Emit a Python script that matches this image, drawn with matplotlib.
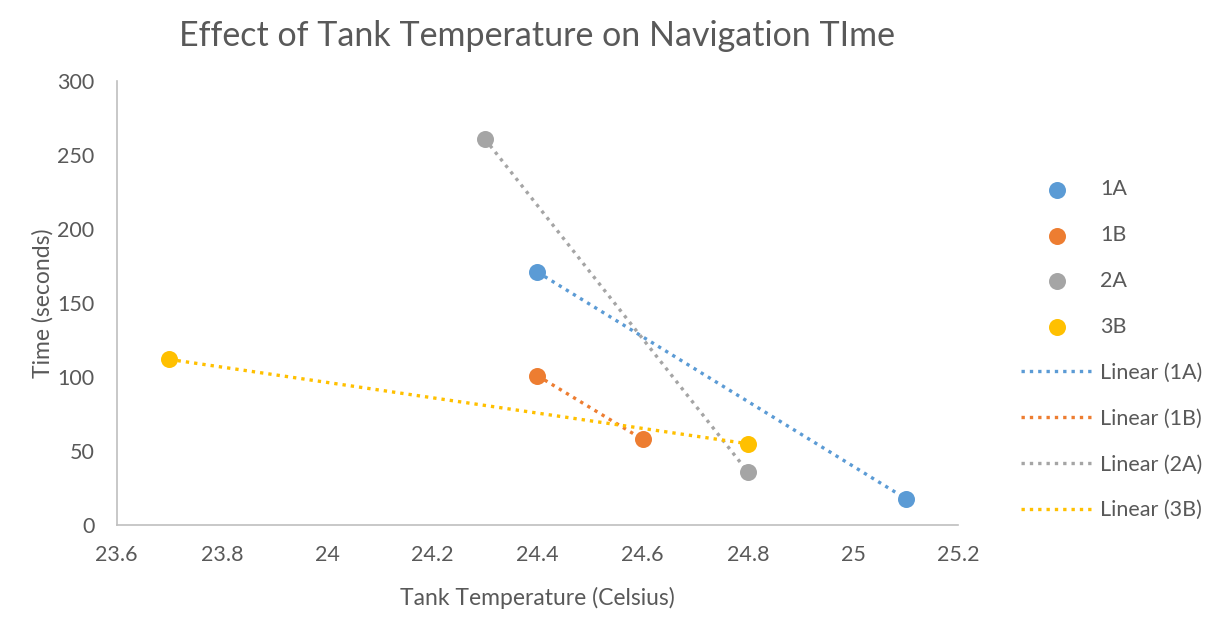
import matplotlib.pyplot as plt
import numpy as np

plt.rcParams['font.family'] = ['Lato', 'DejaVu Sans']

series = ["1A", "1B", "2A", "3B"]
colors = ["#5B9BD5", "#ED7D31", "#A5A5A5", "#FFC000"]
temps = [[24.4, 25.1], [24.4, 24.6], [24.3, 24.8], [23.7, 24.8]]
times = [[171, 18], [101, 58], [261, 36], [112, 55]]

x_ticks = [23.6, 23.8, 24, 24.2, 24.4, 24.6, 24.8, 25, 25.2]
x_labels = ["23.6", "23.8", "24", "24.2", "24.4", "24.6", "24.8", "25", "25.2"]
y_ticks = [0, 50, 100, 150, 200, 250, 300]

text_col = "#595959"

fig = plt.figure(figsize=(12.16, 6.2), dpi=100)
ax = fig.add_axes([0.096, 0.153, 0.692, 0.716])

dots, lines = [], []
for name, c, xs, ys in zip(series, colors, temps, times):
    xs = np.array(xs)
    ys = np.array(ys)
    d = ax.scatter(xs, ys, s=150, color=c, zorder=3, label=name, linewidths=0)
    dots.append(d)
    k, b = np.polyfit(xs, ys, 1)
    xx = np.array([xs.min(), xs.max()])
    l, = ax.plot(xx, k * xx + b, color=c, lw=2.4, linestyle=(0, (1, 1.5)),
                 label="Linear (%s)" % name, zorder=2)
    lines.append(l)

ax.set_xlim(23.6, 25.2)
ax.set_ylim(0, 300)
ax.set_xticks(x_ticks)
ax.set_xticklabels(x_labels)
ax.set_yticks(y_ticks)
ax.tick_params(length=0, labelsize=15.5, colors=text_col)
ax.tick_params(axis="x", pad=14)
ax.tick_params(axis="y", pad=16)
for s in ["top", "right"]:
    ax.spines[s].set_visible(False)
for s in ["left", "bottom"]:
    ax.spines[s].set_color("#BFBFBF")
    ax.spines[s].set_linewidth(1.2)

ax.set_xlabel("Tank Temperature (Celsius)", fontsize=16.5, color=text_col, labelpad=16)
ax.set_ylabel("Time (seconds)", fontsize=16.5, color=text_col, labelpad=3)
fig.suptitle("Effect of Tank Temperature on Navigation TIme", x=0.442, y=0.967,
             fontsize=24.5, color=text_col)

ax.legend(dots + lines, [h.get_label() for h in dots + lines], frameon=False,
          loc="center left", bbox_to_anchor=(1.052, 0.395), fontsize=15.5,
          labelcolor=text_col, labelspacing=1.2, handlelength=3.3,
          handletextpad=0.35, scatterpoints=1, markerscale=1.0)

fig.savefig("out.png")
